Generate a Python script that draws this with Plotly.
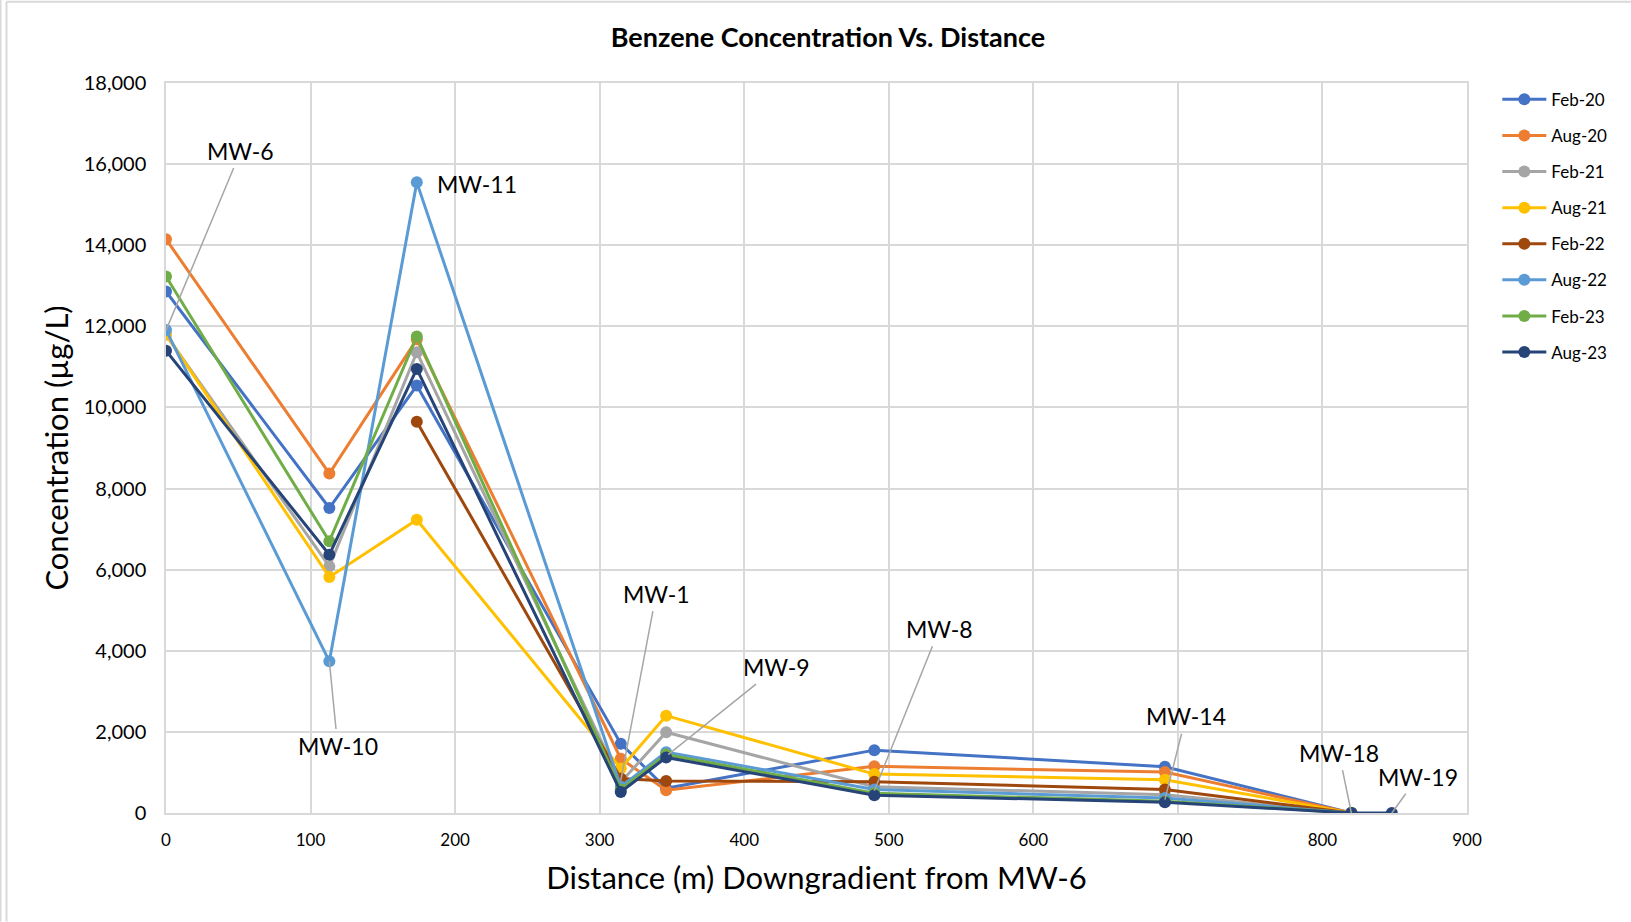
import plotly.graph_objects as go

# ---- data ----
wells = ["MW-6", "MW-10", "MW-11", "MW-1", "MW-9", "MW-8", "MW-14", "MW-18", "MW-19"]
distance = [0, 113, 173.5, 314.6, 346, 490, 691, 820, 848]

series_names = ["Feb-20", "Aug-20", "Feb-21", "Aug-21", "Feb-22", "Aug-22", "Feb-23", "Aug-23"]
feb20 = [12860, 7520, 10540, 1710, 610, 1550, 1140, 0, None]
aug20 = [14150, 8370, 11680, 1340, 560, 1150, 1010, 0, None]
feb21 = [11790, 6080, 11360, 760, 1990, 650, 450, 0, None]
aug21 = [11800, 5820, 7230, 1100, 2400, 960, 820, 0, None]
feb22 = [None, None, 9650, 850, 790, 770, 580, 0, None]
aug22 = [11910, 3740, 15550, 650, 1500, 580, 370, 0, None]
feb23 = [13230, 6700, 11750, 580, 1440, 490, 290, 0, None]
aug23 = [11400, 6370, 10950, 520, 1370, 440, 265, 0, 0]
series_values = [feb20, aug20, feb21, aug21, feb22, aug22, feb23, aug23]
colors = ["#4472C4", "#ED7D31", "#A5A5A5", "#FFC000", "#9E480E", "#5B9BD5", "#70AD47", "#264478"]

y_ticks = list(range(0, 18001, 2000))
y_tick_text = [f"{v:,}" for v in y_ticks]
x_ticks = list(range(0, 901, 100))

# well label positions (text position in data units, and point pointed to)
label_text = ["MW-6", "MW-10", "MW-1", "MW-9", "MW-8", "MW-14", "MW-18", "MW-19"]
label_tx = [51.8, 118.8, 339.1, 422.6, 535, 705.6, 811.4, 866.2]
label_ty = [16333, 1641, 5410, 3590, 4538, 2385, 1487, 897]
label_px = [0, 113, 314.6, 347.4, 490, 691, 820, 848]
label_py = [11900, 3740, 800, 1440, 550, 330, 0, 0]

FONT = "Lato"

fig = go.Figure()
for name, vals, col in zip(series_names, series_values, colors):
    fig.add_trace(go.Scatter(
        x=distance, y=vals, name=name, mode="lines+markers",
        line=dict(color=col, width=3),
        marker=dict(color=col, size=12),
        legendgroup=name,
    ))

annotations = []
for t, tx, ty, px, py in zip(label_text, label_tx, label_ty, label_px, label_py):
    annotations.append(dict(
        x=px, y=py, ax=tx, ay=ty, xref="x", yref="y", axref="x", ayref="y",
        text=t, showarrow=True, arrowhead=0, arrowwidth=1.5, arrowcolor="#A6A6A6",
        standoff=0, startstandoff=2,
        font=dict(family=FONT, size=23, color="#000000"),
    ))
# MW-11 label, no leader line
annotations.append(dict(
    x=185.8, y=15513, xref="x", yref="y", text="MW-11", showarrow=False,
    xanchor="left", yanchor="middle",
    font=dict(family=FONT, size=23, color="#000000"),
))

grid = "#D9D9D9"
shapes = [
    dict(type="line", xref="paper", yref="paper",
         x0=(7 - 166.4) / 1300.3, x1=(1631 - 166.4) / 1300.3,
         y0=(813.4 - 2) / 730.2, y1=(813.4 - 2) / 730.2,
         line=dict(color=grid, width=2)),
    dict(type="line", xref="paper", yref="paper",
         x0=(7 - 166.4) / 1300.3, x1=(7 - 166.4) / 1300.3,
         y0=(813.4 - 2) / 730.2, y1=(813.4 - 922) / 730.2,
         line=dict(color=grid, width=2)),
    dict(type="line", xref="paper", yref="paper",
         x0=(1 - 166.4) / 1300.3, x1=(1 - 166.4) / 1300.3,
         y0=(813.4 - 0) / 730.2, y1=(813.4 - 922) / 730.2,
         line=dict(color=grid, width=2)),
]

fig.update_layout(
    width=1631, height=922,
    margin=dict(l=166, r=164, t=83, b=109),
    paper_bgcolor="white", plot_bgcolor="white",
    font=dict(family=FONT, color="#000000"),
    title=dict(text="<b>Benzene Concentration Vs. Distance</b>",
               x=828 / 1631, xanchor="center", y=1 - 38 / 922, yanchor="middle",
               font=dict(family=FONT, size=27, color="#000000")),
    xaxis=dict(range=[0, 900], tickvals=x_ticks, showgrid=True, gridcolor=grid, gridwidth=1.5,
               zeroline=False, showline=True, mirror=True, linecolor=grid, linewidth=1.5,
               ticks="", ticklabelstandoff=11,
               tickfont=dict(family=FONT, size=17, color="#000000"),
               title=dict(text="Distance (m) Downgradient from MW-6", standoff=18,
                          font=dict(family=FONT, size=31, color="#000000"))),
    yaxis=dict(range=[0, 18000], tickvals=y_ticks, ticktext=y_tick_text, showgrid=True,
               gridcolor=grid, gridwidth=1.5, zeroline=False, showline=True, mirror=True,
               linecolor=grid, linewidth=1.5, ticks="", ticklabelstandoff=14,
               tickfont=dict(family=FONT, size=20, color="#000000"),
               title=dict(text="Concentration (µg/L)", standoff=6,
                          font=dict(family=FONT, size=31, color="#000000"))),
    legend=dict(x=(1497 - 166.4) / 1300.3, xanchor="left", y=(813.4 - 82) / 730.2, yanchor="top",
                font=dict(family=FONT, size=17, color="#000000"), tracegroupgap=11,
                itemwidth=44, bgcolor="rgba(0,0,0,0)"),
    showlegend=True,
    annotations=annotations,
    shapes=shapes,
)

fig.write_html("out.html")
